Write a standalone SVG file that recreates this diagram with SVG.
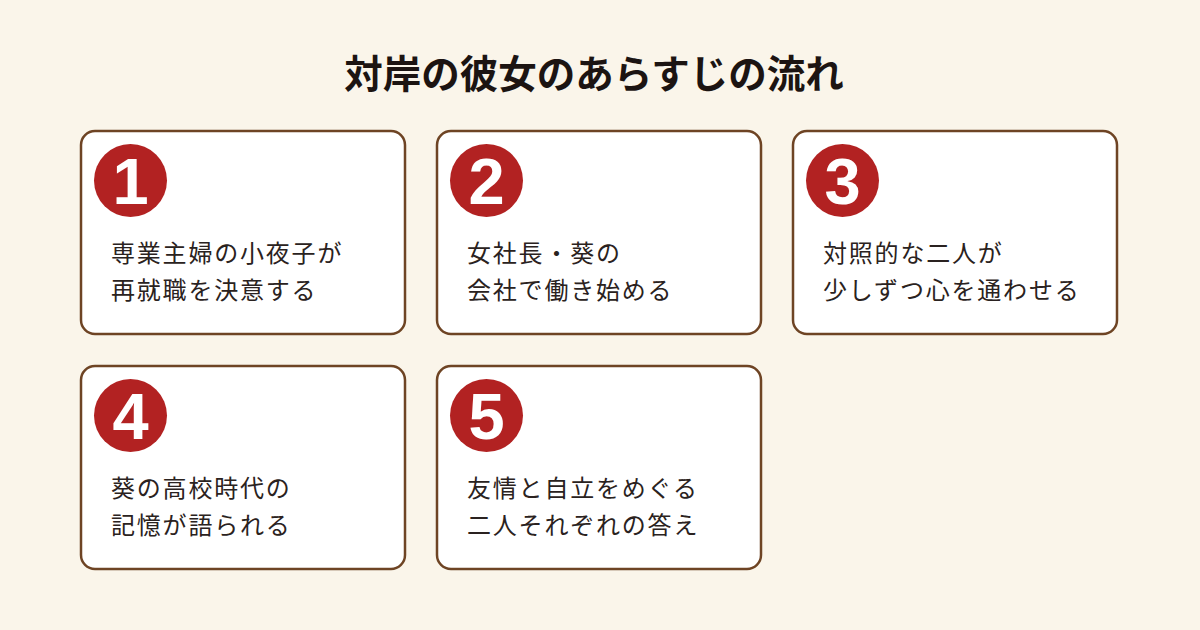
<svg xmlns="http://www.w3.org/2000/svg" width="1200" height="630" viewBox="0 0 1200 630">
<style>
.card{fill:#ffffff;stroke:#6e4424;stroke-width:2.5}
.num-bg{fill:#b22222}
.num{fill:#ffffff;font-family:"Liberation Sans",Arial,sans-serif;font-weight:700;font-size:65px;text-anchor:middle}
.txt{fill:#2a2220;font-family:"Noto Sans CJK JP",sans-serif;font-size:24px;letter-spacing:1.8px}
.title{fill:#1c1412;font-family:"Noto Sans CJK JP",sans-serif;font-weight:700;font-size:38.5px;text-anchor:middle}
</style>
<rect width="1200" height="630" fill="#faf5ea"/>
<text class="title" x="594" y="88">対岸の彼女のあらすじの流れ</text>
<g id="connectors"></g>
<g id="step1">
<rect class="card" x="81" y="131" width="324" height="203" rx="14"/>
<circle class="num-bg" cx="130.5" cy="180.5" r="36.5"/>
<text class="num" x="130.5" y="204">1</text>
<text class="txt" x="111" y="262">専業主婦の小夜子が</text>
<text class="txt" x="111" y="299">再就職を決意する</text>
</g>
<g id="step2">
<rect class="card" x="437" y="131" width="324" height="203" rx="14"/>
<circle class="num-bg" cx="486.5" cy="180.5" r="36.5"/>
<text class="num" x="486.5" y="204">2</text>
<text class="txt" x="467" y="262">女社長・葵の</text>
<text class="txt" x="467" y="299">会社で働き始める</text>
</g>
<g id="step3">
<rect class="card" x="793" y="131" width="324" height="203" rx="14"/>
<circle class="num-bg" cx="842.5" cy="180.5" r="36.5"/>
<text class="num" x="842.5" y="204">3</text>
<text class="txt" x="823" y="262">対照的な二人が</text>
<text class="txt" x="823" y="299">少しずつ心を通わせる</text>
</g>
<g id="step4">
<rect class="card" x="81" y="366" width="324" height="203" rx="14"/>
<circle class="num-bg" cx="130.5" cy="415.5" r="36.5"/>
<text class="num" x="130.5" y="439">4</text>
<text class="txt" x="111" y="497">葵の高校時代の</text>
<text class="txt" x="111" y="534">記憶が語られる</text>
</g>
<g id="step5">
<rect class="card" x="437" y="366" width="324" height="203" rx="14"/>
<circle class="num-bg" cx="486.5" cy="415.5" r="36.5"/>
<text class="num" x="486.5" y="439">5</text>
<text class="txt" x="467" y="497">友情と自立をめぐる</text>
<text class="txt" x="467" y="534">二人それぞれの答え</text>
</g>
</svg>
